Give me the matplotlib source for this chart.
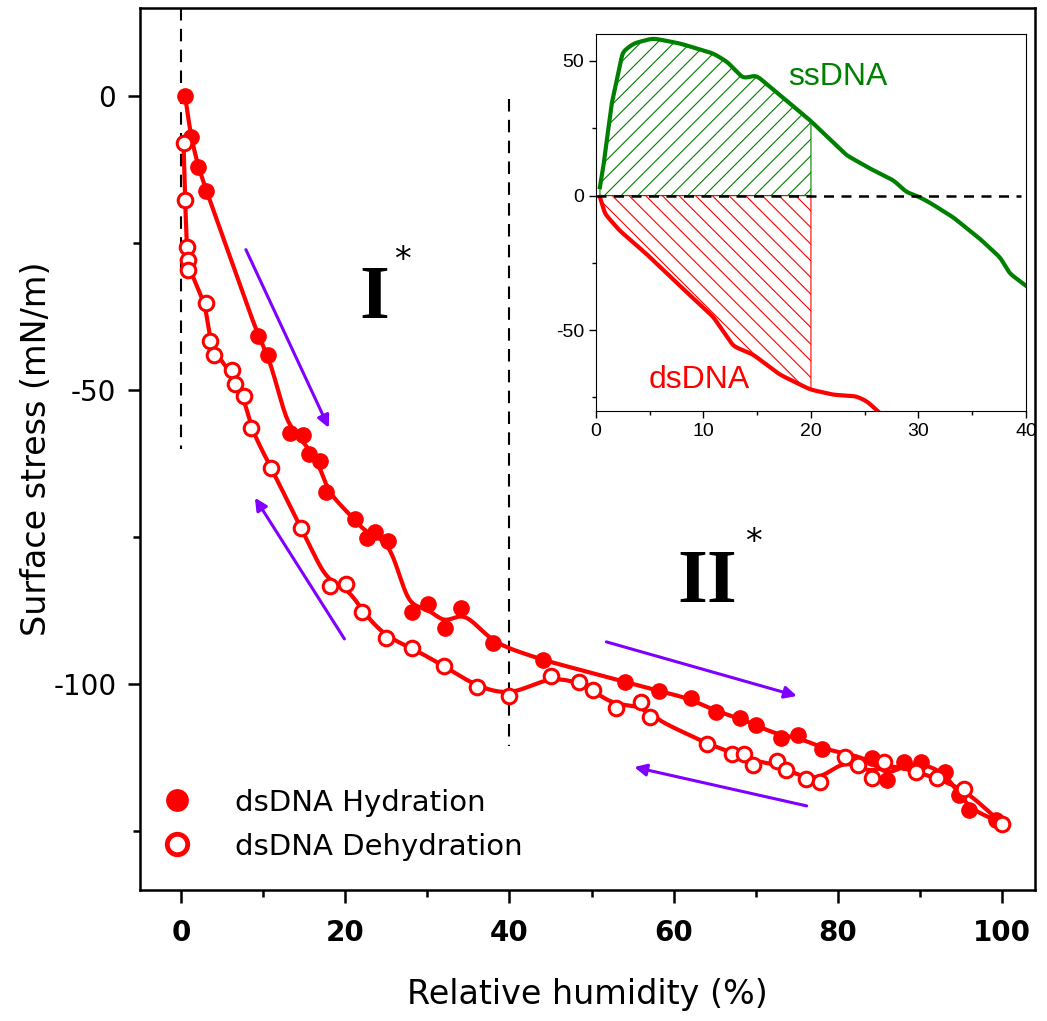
import numpy as np
import matplotlib
matplotlib.use("Agg")
import matplotlib.pyplot as plt

# ---- данные главного графика ----
hyd_rh = [0.5, 1.2, 2.1, 3.1, 9.4, 10.6, 13.3, 14.8, 15.6, 16.9, 17.7, 21.2, 22.7, 23.6,
          25.2, 28.1, 30.1, 32.1, 34.1, 38.0, 44.1, 54.1, 58.2, 62.1, 65.2, 68.1, 70.0,
          73.1, 75.2, 78.1, 84.1, 86.0, 88.1, 90.1, 93.1, 94.8, 96.0, 99.2]
hyd_stress = [0.0, -6.9, -12.1, -16.1, -40.8, -44.0, -57.3, -57.7, -60.8, -62.0, -67.3,
              -71.9, -75.2, -74.1, -75.6, -87.7, -86.3, -90.5, -87.1, -93.0, -95.9, -99.6,
              -101.2, -102.4, -104.8, -105.7, -106.9, -109.1, -108.7, -111.1, -112.6,
              -116.3, -113.2, -113.2, -114.9, -118.9, -121.4, -123.1]

dehyd_rh = [0.3, 0.5, 0.7, 0.8, 0.9, 3.0, 3.5, 4.0, 6.2, 6.6, 7.7, 8.5, 11.0, 14.6, 18.1,
            20.1, 22.1, 25.0, 28.1, 32.0, 36.0, 40.0, 45.1, 48.5, 50.2, 53.0, 56.0, 57.1,
            64.1, 67.1, 68.6, 69.6, 72.6, 73.7, 76.1, 77.8, 80.9, 82.4, 84.1, 85.6, 89.5,
            92.1, 95.4, 100.0]
dehyd_stress = [-8.0, -17.7, -25.6, -27.8, -29.5, -35.2, -41.6, -44.0, -46.6, -49.0, -51.0,
                -56.5, -63.3, -73.4, -83.3, -82.9, -87.7, -92.1, -93.8, -96.9, -100.4,
                -102.0, -98.6, -99.6, -101.0, -104.1, -103.0, -105.5, -110.1, -111.8,
                -111.8, -113.7, -113.0, -114.6, -116.2, -116.6, -112.4, -113.8, -115.9,
                -113.2, -114.9, -116.0, -117.9, -123.7]

# ---- вставка: ssDNA и dsDNA ----
ss_rh = [0.37, 0.68, 1.46, 2.5, 3.5, 5.3, 7.8, 10.9, 12.2, 13.7, 14.9, 17.1, 19.9, 23.3,
         25.5, 27.7, 28.9, 29.8, 31.0, 33.2, 35.7, 37.6, 38.5, 40.0]
ss_stress = [3.1, 10.6, 34.0, 53.4, 56.5, 58.4, 56.5, 52.8, 49.7, 43.5, 44.7, 37.3, 28.0,
             15.0, 10.0, 5.6, 1.2, 0.0, -2.5, -8.0, -16.0, -23.0, -29.0, -33.5]
ds_rh = [0.37, 0.84, 2.2, 4.7, 7.8, 10.9, 12.8, 14.6, 17.1, 19.9, 22.1, 24.2, 25.2, 26.4, 27.0]
ds_stress = [-0.6, -6.8, -13.0, -21.7, -33.5, -45.0, -56.0, -59.0, -66.5, -72.0, -74.0,
             -74.5, -76.4, -80.7, -83.0]


def smooth_path(xs, ys, sx, sy, bw, n=1500):
    # ломаная по точкам -> равномерно по длине дуги -> гауссово сглаживание
    u = np.asarray(xs, float) / sx
    v = np.asarray(ys, float) / sy
    s = np.concatenate([[0], np.cumsum(np.hypot(np.diff(u), np.diff(v)))])
    sg = np.linspace(0, s[-1], n)
    ui = np.interp(sg, s, u)
    vi = np.interp(sg, s, v)
    ds = sg[1] - sg[0]
    k = min(int(3 * bw / ds) + 1, n - 2)
    kern = np.exp(-0.5 * ((np.arange(-k, k + 1) * ds) / bw) ** 2)
    kern /= kern.sum()

    def conv(a):
        # отражение относительно концов, чтобы концы остались на месте
        pad = np.concatenate([2 * a[0] - a[k:0:-1], a, 2 * a[-1] - a[-2:-k - 2:-1]])
        return np.convolve(pad, kern, mode='valid')

    return conv(ui) * sx, conv(vi) * sy


plt.rcParams['font.family'] = ['DejaVu Sans']
plt.rcParams['axes.unicode_minus'] = False
plt.rcParams['hatch.linewidth'] = 0.8

fig = plt.figure(figsize=(10.47, 10.21), dpi=100)
ax = fig.add_axes([0.1337, 0.1283, 0.8548, 0.8639])

red = '#ff0000'
violet = '#7f00ff'

# сглаженные кривые
cx, cy = smooth_path(hyd_rh, hyd_stress, 100, 130, 0.018)
ax.plot(cx, cy, color=red, lw=3, zorder=3)
dx, dy = smooth_path(dehyd_rh, dehyd_stress, 100, 130, 0.018)
ax.plot(dx, dy, color=red, lw=3, zorder=3)

h1, = ax.plot(hyd_rh, hyd_stress, 'o', color=red, ms=11, zorder=4, label='dsDNA Hydration')
h2, = ax.plot(dehyd_rh, dehyd_stress, 'o', mfc='white', mec=red, mew=2.2, ms=10.5, zorder=5,
              label='dsDNA Dehydration')

# пунктирные границы областей
ax.plot([0, 0], [15, -60], color='black', lw=1.5, dashes=(6, 4), zorder=2)
ax.plot([40, 40], [-0.5, -110.5], color='black', lw=1.5, dashes=(6, 4), zorder=2)

# стрелки
arr = dict(arrowstyle='-|>', color=violet, lw=2.2, mutation_scale=18, shrinkA=0, shrinkB=0)
ax.annotate('', xy=(18.0, -56.4), xytext=(7.9, -26.1), arrowprops=arr)
ax.annotate('', xy=(9.0, -68.3), xytext=(19.9, -92.3), arrowprops=arr)
ax.annotate('', xy=(75.0, -102.0), xytext=(51.8, -92.8), arrowprops=arr)
ax.annotate('', xy=(55.2, -114.1), xytext=(76.2, -120.7), arrowprops=arr)

# подписи областей
ax.text(23.6, -37.8, 'I', fontsize=55, family='Liberation Serif', fontweight='bold',
        ha='center', va='baseline')
ax.text(27.0, -29.5, '*', fontsize=24, ha='center', va='baseline')
ax.text(64.1, -86.0, 'II', fontsize=55, family='Liberation Serif', fontweight='bold',
        ha='center', va='baseline')
ax.text(69.7, -77.6, '*', fontsize=24, ha='center', va='baseline')

ax.set_xlim(-5, 104)
ax.set_ylim(-135, 15)
ax.set_xticks([0, 20, 40, 60, 80, 100])
ax.set_xticks([10, 30, 50, 70, 90], minor=True)
ax.set_yticks([-100, -50, 0])
ax.set_yticks([-125, -75, -25], minor=True)
ax.tick_params(which='major', direction='out', length=9, width=1.8, labelsize=20, pad=12)
ax.tick_params(which='minor', direction='out', length=5, width=1.8)
ax.tick_params(axis='y', which='major', pad=8)
for lab in ax.get_xticklabels():
    lab.set_fontweight('bold')
for sp in ax.spines.values():
    sp.set_linewidth(1.8)

ax.set_xlabel('Relative humidity (%)', fontsize=24, labelpad=22)
ax.set_ylabel('Surface stress (mN/m)', fontsize=24, labelpad=0)

leg = ax.legend(handles=[h1, h2], loc='lower left', bbox_to_anchor=(0.012, 0.02), frameon=False,
                fontsize=21, markerscale=1.4, handlelength=1.0, handletextpad=1.5,
                labelspacing=0.55, borderaxespad=0)
leg.legend_handles[1].set_markeredgewidth(3.5)

# ---- вставка ----
ins = fig.add_axes([0.5692, 0.5975, 0.4107, 0.3692])
green = '#008000'

gx, gy = smooth_path(ss_rh, ss_stress, 40, 140, 0.008)
rx, ry = smooth_path(ds_rh, ds_stress, 40, 140, 0.008)

sel = gx <= 20
fx = np.append(gx[sel], 20)
fy = np.append(gy[sel], np.interp(20, gx, gy))
ins.fill_between(fx, fy, 0, facecolor='none', edgecolor=green, hatch='//', lw=0.8)
sel = rx <= 20
fx = np.append(rx[sel], 20)
fy = np.append(ry[sel], np.interp(20, rx, ry))
ins.fill_between(fx, fy, 0, facecolor='none', edgecolor=red, hatch='\\\\', lw=0.8)

ins.plot(gx, gy, color=green, lw=3)
ins.plot(rx, ry, color=red, lw=3)
ins.plot([0, 39.5], [0, 0], color='black', lw=1.8, dashes=(4, 3))

ins.text(17.9, 40.9, 'ssDNA', color=green, fontsize=23, family='Liberation Sans')
ins.text(4.87, -71.3, 'dsDNA', color=red, fontsize=23, family='Liberation Sans')

ins.set_xlim(0, 40)
ins.set_ylim(-80, 60)
ins.set_xticks([0, 10, 20, 30, 40])
ins.set_xticks([5, 15, 25, 35], minor=True)
ins.set_yticks([-50, 0, 50])
ins.set_yticks([-75, -25, 25], minor=True)
ins.tick_params(which='major', direction='out', length=5, width=1, labelsize=14)
ins.tick_params(which='minor', direction='out', length=3, width=1)
for lab in ins.get_xticklabels() + ins.get_yticklabels():
    lab.set_family('Liberation Sans')

fig.savefig('out.png', dpi=100)
